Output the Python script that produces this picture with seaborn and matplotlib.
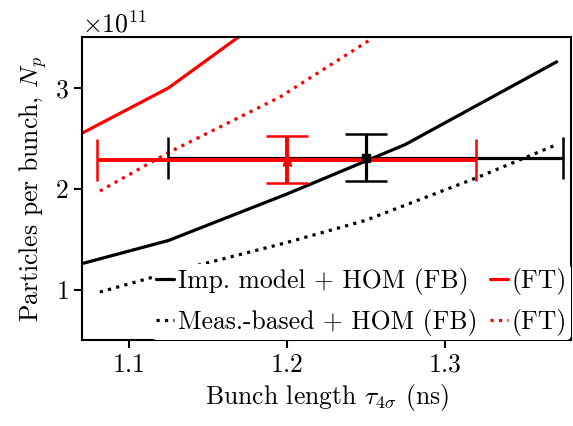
import numpy as np
import pandas as pd
import matplotlib
matplotlib.use("Agg")
import matplotlib.pyplot as plt
import seaborn as sns

# 曲线数据 (x: ns, y: 粒子数)
imp_fb_x = [1.07, 1.125, 1.2, 1.275, 1.371]
imp_fb_y = [1.26e11, 1.49e11, 1.95e11, 2.44e11, 3.26e11]

meas_fb_x = [1.0816, 1.125, 1.2, 1.25, 1.32, 1.371]
meas_fb_y = [0.98e11, 1.17e11, 1.47e11, 1.69e11, 2.11e11, 2.44e11]

imp_ft_x = [1.07, 1.125, 1.169, 1.2]
imp_ft_y = [2.55e11, 3.00e11, 3.50e11, 3.86e11]

meas_ft_x = [1.0816, 1.125, 1.1956, 1.2525]
meas_ft_y = [1.98e11, 2.36e11, 2.91e11, 3.475e11]

# 测量点 (中心, x误差, y误差)
fb_point = (1.25, 2.31e11)
fb_xerr, fb_yerr = 0.125, 0.233e11
ft_point = (1.2, 2.29e11)
ft_xerr, ft_yerr = 0.12, 0.23e11

xlim = (1.0703, 1.380)
ylim = (0.505e11, 3.505e11)

sns.set_theme(style="ticks")
plt.rcParams['font.family'] = ['cmr10', 'DejaVu Serif']
plt.rcParams['mathtext.fontset'] = 'cm'
plt.rcParams['axes.unicode_minus'] = False
plt.rcParams['axes.formatter.use_mathtext'] = True
for k in ['text.color', 'axes.labelcolor', 'xtick.color', 'ytick.color', 'axes.edgecolor']:
    plt.rcParams[k] = 'black'

fs = 18.5

fig, ax = plt.subplots(figsize=(5.73, 4.26), dpi=100)
fig.subplots_adjust(left=82/573, right=571/573, top=1-37/426, bottom=1-340/426)

curves = [
    (imp_fb_x, imp_fb_y, 'black', '-', 'Imp. model + HOM (FB)'),
    (meas_fb_x, meas_fb_y, 'black', ':', 'Meas.-based + HOM (FB)'),
    (imp_ft_x, imp_ft_y, 'red', '-', '(FT)'),
    (meas_ft_x, meas_ft_y, 'red', ':', '(FT)'),
]
for xs, ys, c, ls, lab in curves:
    df = pd.DataFrame({'x': xs, 'y': ys})
    sns.lineplot(data=df, x='x', y='y', ax=ax, color=c, linestyle=ls,
                 linewidth=2.3, label=lab, errorbar=None)

ax.errorbar(fb_point[0], fb_point[1], xerr=fb_xerr, yerr=fb_yerr, color='black',
            marker='none', elinewidth=2.3, capsize=15, capthick=1.8,
            linestyle='none', zorder=4)
ax.errorbar(ft_point[0], ft_point[1], xerr=ft_xerr, yerr=ft_yerr, color='red',
            marker='*', markersize=10, elinewidth=2.8, capsize=15, capthick=1.8,
            linestyle='none', zorder=5)
# 黑色中心点画在最上层
ax.plot(fb_point[0], fb_point[1], marker='s', markersize=6, color='black',
        linestyle='none', zorder=6)

ax.set_xlim(*xlim)
ax.set_ylim(*ylim)
ax.set_xticks([1.1, 1.2, 1.3])
ax.set_yticks([1e11, 2e11, 3e11])
ax.tick_params(labelsize=fs, length=6, width=1.5, colors='black')
ax.yaxis.get_offset_text().set_fontsize(fs)
ax.set_xlabel(r'Bunch length $\tau_{4\sigma}$ (ns)', fontsize=fs)
ax.set_ylabel(r'Particles per bunch, $N_p$', fontsize=fs)
for s in ax.spines.values():
    s.set_linewidth(1.5)
    s.set_color('black')

leg = ax.legend(loc='lower right', ncol=2, fontsize=fs, handlelength=0.7,
                handletextpad=0.15, columnspacing=0.5, borderaxespad=0.0,
                borderpad=0.15, labelspacing=0.55, frameon=True, framealpha=1.0,
                edgecolor='none', facecolor='white')

fig.savefig('out.png', dpi=100)
